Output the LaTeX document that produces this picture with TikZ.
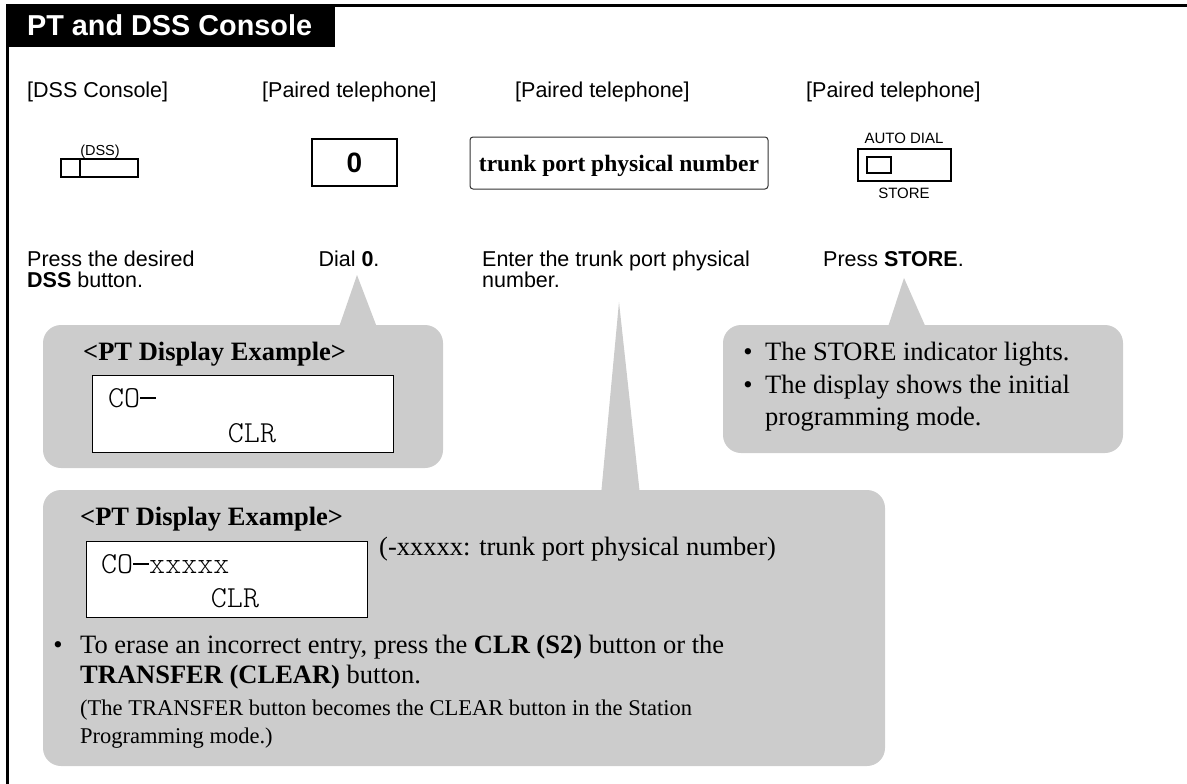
\documentclass[tikz,border=0pt]{standalone}
\usepackage{fontspec}
\setmainfont{Liberation Serif}
\newfontfamily\hv{Liberation Sans}
\newfontfamily\cour{Latin Modern Mono Light}
\newcommand{\dispdash}{\rule[0.27em]{0.525em}{0.045em}}
\definecolor{callgray}{RGB}{204,204,204}
\begin{document}
\begin{tikzpicture}[x=1pt,y=-1pt,
  lbl/.style={inner sep=0pt, anchor=base west, font=\hv\fontsize{21.5}{26}\selectfont},
  small/.style={inner sep=0pt, anchor=base, font=\hv\fontsize{15}{18}\selectfont},
  tm/.style={inner sep=0pt, anchor=base west, font=\fontsize{26.5}{32}\selectfont},
  tms/.style={inner sep=0pt, anchor=base west, font=\fontsize{22.5}{27}\selectfont},
  disp/.style={inner sep=0pt, anchor=base west, font=\cour\fontsize{30.5}{34}\selectfont},
  callout/.style={fill=callgray, draw=none, rounded corners=18pt},
  pointer/.style={fill=callgray, draw=none},
  dispbox/.style={fill=white, draw=black, line width=0.9pt},
  btn/.style={draw=black, line width=2pt}]
\useasboundingbox (0,0) rectangle (1187,784);

% frame and title
\draw[line width=3pt] (7.5,784) -- (7.5,5.5) -- (1187,5.5);
\fill[black] (6,4) rectangle (335,47);
\node[inner sep=0pt, anchor=base west, text=white, font=\hv\bfseries\fontsize{28.8}{32}\selectfont] (title) at (27,36) {PT and DSS Console};

% column headings
\node[lbl] (h1) at (27,98) {[DSS Console]};
\node[lbl] (h2) at (262,98) {[Paired telephone]};
\node[lbl] (h3) at (515,98) {[Paired telephone]};
\node[lbl] (h4) at (806,98) {[Paired telephone]};

% DSS button
\node[small, font=\hv\fontsize{14.5}{17}\selectfont] (dsslbl) at (100,155) {(DSS)};
\draw[btn] (61,159) rectangle (138,177);
\draw[btn] (79.5,159) -- (79.5,177);

% 0 key
\draw[btn] (312,139) rectangle (397,186);
\node[inner sep=0pt, font=\hv\bfseries\fontsize{28}{32}\selectfont] (zero) at (354.5,163) {0};

% trunk box
\draw[draw=black!80, line width=1pt, rounded corners=3pt] (470,137) rectangle (768,189);
\node[inner sep=0pt, anchor=base, font=\bfseries\fontsize{23.5}{28}\selectfont] (trunk) at (619,171) {trunk port physical number};

% AUTO DIAL / STORE button
\node[small] (autodial) at (904,143.5) {AUTO DIAL};
\draw[btn] (858,149) rectangle (951,181);
\draw[btn] (867,157) rectangle (891,173);
\node[small] (storelbl) at (904,198.5) {STORE};

% step descriptions
\node[lbl] (d1a) at (27,266) {Press the desired};
\node[lbl] (d1b) at (27,287) {{\bfseries DSS} button.};
\node[lbl, anchor=base] (d2) at (349,266) {Dial {\bfseries 0}.};
\node[lbl] (d3a) at (482,266) {Enter the trunk port physical};
\node[lbl] (d3b) at (482,287) {number.};
\node[lbl] (d4) at (823,266) {Press {\bfseries STORE}.};

% callout 1
\fill[pointer] (357,275) -- (378,330) -- (338,330) -- cycle;
\fill[callout] (43,325) rectangle (443,468);
\node[tm, font=\bfseries\fontsize{26.5}{32}\selectfont] (ex1) at (83,360) {<PT Display Example>};
\draw[dispbox] (92,375) rectangle (393,452);
\node[disp] (co1) at (108,407) {CO\dispdash};
\node[disp, anchor=base] (clr1) at (252,442) {CLR};

% callout 3 (STORE)
\fill[pointer] (904,278) -- (927,330) -- (887,330) -- cycle;
\fill[callout] (723,325) rectangle (1123,453);
\node[tm, anchor=base] (b1) at (748,360) {•};
\node[tm] (s1) at (765,360) {The STORE indicator lights.};
\node[tm, anchor=base] (b2) at (748,393) {•};
\node[tm] (s2) at (765,393) {The display shows the initial};
\node[tm] (s3) at (765,425) {programming mode.};

% callout 2 (bottom)
\fill[pointer] (619,302) -- (640,495) -- (601,495) -- cycle;
\fill[callout] (43,490) rectangle (885,766);
\node[tm, font=\bfseries\fontsize{26.5}{32}\selectfont] (ex2) at (80,525) {<PT Display Example>};
\draw[dispbox] (86,541) rectangle (367,617);
\node[disp] (co2) at (101,573) {CO\dispdash xxxxx};
\node[disp, anchor=base] (clr2) at (235,607) {CLR};
\node[tm] (note) at (379,555) {(-xxxxx: trunk port physical number)};
\node[tm, anchor=base] (b3) at (58,653) {•};
\node[tm] (e1) at (80,653) {To erase an incorrect entry, press the {\bfseries CLR (S2)} button or the};
\node[tm] (e2) at (80,683) {{\bfseries TRANSFER (CLEAR)} button.};
\node[tms] (e3) at (80,715) {(The TRANSFER button becomes the CLEAR button in the Station};
\node[tms] (e4) at (80,743) {Programming mode.)};
\end{tikzpicture}
\end{document}
